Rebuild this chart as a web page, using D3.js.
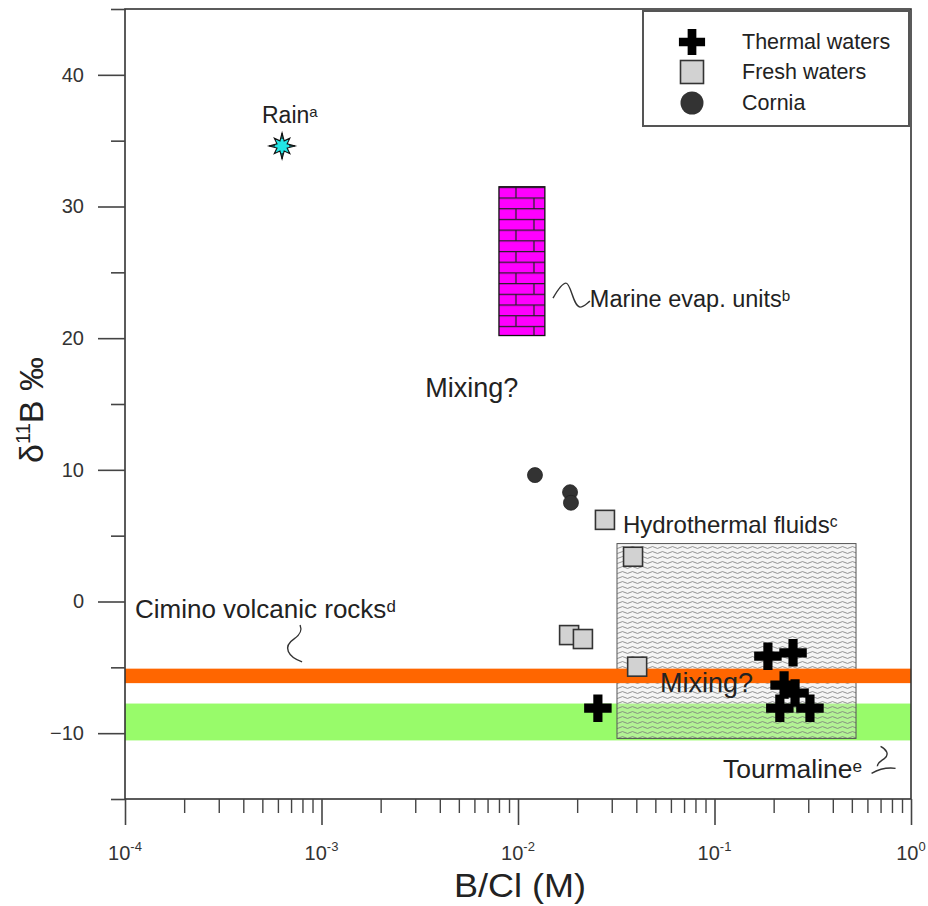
<!DOCTYPE html>
<html>
<head>
<meta charset="utf-8">
<script src="https://cdn.jsdelivr.net/npm/d3@7"></script>
<style>
  body { margin: 0; background: #fff; }
  svg { display: block; font-family: "Liberation Sans", Arial, sans-serif; }
</style>
</head>
<body>
<svg id="chart" width="928" height="906"></svg>
<script>
// ---------------- DATA ----------------
const xTickValues = [1e-4, 1e-3, 1e-2, 1e-1, 1];
const xTickExponents = ["-4", "-3", "-2", "-1", "0"];
const yTickValues = [-10, 0, 10, 20, 30, 40];
const yMinorTicks = [-15, -5, 5, 15, 25, 35, 45];

const thermalX = [0.0255, 0.187, 0.251, 0.226, 0.257, 0.215, 0.306];
const thermalY = [-8.1, -4.15, -3.9, -6.35, -6.95, -8.1, -8.1];

const freshX = [0.0277, 0.0385, 0.0182, 0.0214, 0.0404];
const freshY = [6.2, 3.4, -2.55, -2.85, -4.95];

const corniaX = [0.0122, 0.0184, 0.0186];
const corniaY = [9.6, 8.3, 7.5];

const rainX = [0.00063];
const rainY = [34.6];

const marineRangeX = [0.0080, 0.0137];
const marineRangeY = [20.2, 31.5];
const hydroRangeX = [0.0319, 0.525];
const hydroRangeY = [-10.4, 4.4];
const ciminoRangeY = [-6.2, -5.1];
const tourmalineRangeY = [-10.55, -7.75];

const legendLabels = ["Thermal waters", "Fresh waters", "Cornia"];

// ---------------- SETUP ----------------
const svg = d3.select("#chart");
const x = d3.scaleLog().domain([1e-4, 1]).range([125, 911]);
const y = d3.scaleLinear().domain([-15, 45]).range([799, 9]);
const textColor = "#222";

const defs = svg.append("defs");
// brick pattern
const brick = defs.append("pattern").attr("id", "brick")
  .attr("patternUnits", "userSpaceOnUse")
  .attr("x", x(marineRangeX[0])).attr("y", y(marineRangeY[1]))
  .attr("width", 36).attr("height", 21.4);
brick.append("rect").attr("width", 36).attr("height", 21.4).attr("fill", "#ff00ff");
brick.append("path")
  .attr("d", "M0,0.5H36M0,11.2H36M17,0.5V11.2M35,11.2V21.4")
  .attr("stroke", "#222").attr("stroke-width", 1.2).attr("fill", "none");

// wave pattern
const wave = defs.append("pattern").attr("id", "wave")
  .attr("patternUnits", "userSpaceOnUse")
  .attr("width", 10).attr("height", 5);
wave.append("path")
  .attr("d", "M0,2.5 Q2.5,0.6 5,2.5 T10,2.5")
  .attr("stroke", "#7a7a7a").attr("stroke-width", 0.8).attr("fill", "none");

const plot = svg.append("g");

// Tourmaline band (green)
plot.append("rect")
  .attr("x", x(1e-4)).attr("width", x(1) - x(1e-4))
  .attr("y", y(tourmalineRangeY[1])).attr("height", y(tourmalineRangeY[0]) - y(tourmalineRangeY[1]))
  .attr("fill", "#98fb6a");

// Hydrothermal fluids box
plot.append("rect")
  .attr("x", x(hydroRangeX[0])).attr("width", x(hydroRangeX[1]) - x(hydroRangeX[0]))
  .attr("y", y(hydroRangeY[1])).attr("height", y(hydroRangeY[0]) - y(hydroRangeY[1]))
  .attr("fill", "rgba(225,225,225,0.35)").attr("stroke", "none");
plot.append("rect")
  .attr("x", x(hydroRangeX[0])).attr("width", x(hydroRangeX[1]) - x(hydroRangeX[0]))
  .attr("y", y(hydroRangeY[1])).attr("height", y(hydroRangeY[0]) - y(hydroRangeY[1]))
  .attr("fill", "url(#wave)").attr("stroke", "#555").attr("stroke-width", 1);

// Cimino band (orange)
plot.append("rect")
  .attr("x", x(1e-4)).attr("width", x(1) - x(1e-4))
  .attr("y", y(ciminoRangeY[1])).attr("height", y(ciminoRangeY[0]) - y(ciminoRangeY[1]))
  .attr("fill", "#ff6600");

// Marine evaporite box
plot.append("rect")
  .attr("x", x(marineRangeX[0])).attr("width", x(marineRangeX[1]) - x(marineRangeX[0]))
  .attr("y", y(marineRangeY[1])).attr("height", y(marineRangeY[0]) - y(marineRangeY[1]))
  .attr("fill", "url(#brick)").attr("stroke", "#111").attr("stroke-width", 1.3);

// ---------------- AXES ----------------
svg.append("rect")
  .attr("x", x(1e-4)).attr("y", y(45))
  .attr("width", x(1) - x(1e-4)).attr("height", y(-15) - y(45))
  .attr("fill", "none").attr("stroke", "#333").attr("stroke-width", 1.6);

// Y axis majors
const yAxis = d3.axisLeft(y).tickValues(yTickValues).tickSize(27).tickSizeOuter(0).tickPadding(14)
  .tickFormat(d3.format("d"));
const gy = svg.append("g").attr("transform", `translate(${x(1e-4)},0)`).call(yAxis);
gy.select(".domain").remove();
gy.selectAll("line").attr("stroke", "#444").attr("stroke-width", 1.6);
gy.selectAll("text").attr("font-size", 20).attr("fill", "#333")
  .attr("font-family", "'Liberation Sans', Arial, sans-serif");
// Y minor
const yAxisMinor = d3.axisLeft(y).tickValues(yMinorTicks).tickSize(14).tickSizeOuter(0).tickFormat("");
const gym = svg.append("g").attr("transform", `translate(${x(1e-4)},0)`).call(yAxisMinor);
gym.select(".domain").remove();
gym.selectAll("line").attr("stroke", "#444").attr("stroke-width", 1.6);

// X axis majors
const xAxis = d3.axisBottom(x).tickValues(xTickValues).tickSize(26).tickSizeOuter(0).tickFormat("");
const gx = svg.append("g").attr("transform", `translate(0,${y(-15)})`).call(xAxis);
gx.select(".domain").remove();
gx.selectAll("line").attr("stroke", "#444").attr("stroke-width", 1.6);
// X minors
const xMinor = [];
xTickValues.slice(0, -1).forEach(v => { for (let k = 2; k <= 9; k++) xMinor.push(v * k); });
const xAxisMinor = d3.axisBottom(x).tickValues(xMinor).tickSize(14).tickSizeOuter(0).tickFormat("");
const gxm = svg.append("g").attr("transform", `translate(0,${y(-15)})`).call(xAxisMinor);
gxm.select(".domain").remove();
gxm.selectAll("line").attr("stroke", "#444").attr("stroke-width", 1.4);

// X tick labels with superscripts
const xl = svg.append("g").selectAll("text").data(xTickValues).join("text")
  .attr("x", d => x(d)).attr("y", 860)
  .attr("text-anchor", "middle").attr("font-size", 20).attr("fill", "#333");
xl.append("tspan").text("10");
xl.append("tspan").attr("dy", -9).attr("font-size", 13).text((d, i) => xTickExponents[i]);

// Axis titles
svg.append("text")
  .attr("x", 520).attr("y", 897).attr("text-anchor", "middle")
  .attr("font-size", 34).attr("fill", textColor)
  .attr("textLength", 132).attr("lengthAdjust", "spacingAndGlyphs")
  .text("B/Cl (M)");

const yt = svg.append("text")
  .attr("transform", "translate(43,410) rotate(-90)")
  .attr("text-anchor", "middle").attr("font-size", 34).attr("fill", textColor);
yt.append("tspan").text("δ");
yt.append("tspan").attr("font-size", 20).attr("dy", -13).text("11");
yt.append("tspan").attr("dy", 13).text("B ‰");

// ---------------- ANNOTATIONS ----------------
function label(xv, yv, main, sup, size, supDy) {
  const t = svg.append("text").attr("x", x(xv)).attr("y", y(yv))
    .attr("font-size", size).attr("fill", textColor);
  t.append("tspan").text(main);
  if (sup) t.append("tspan").attr("dy", supDy).attr("font-size", size * 0.65).text(sup);
  return t;
}
label(0.000498, 36.33, "Rain", "a", 23, -6);
label(0.0232, 22.36, "Marine evap. units", "b", 23.5, -6);
label(0.00337, 15.53, "Mixing?", null, 27, 0);
label(0.0342, 5.2, "Hydrothermal fluids", "c", 24, -6);
label(0.0001124, -1.25, "Cimino volcanic rocks", "d", 26, -6);
label(0.1104, -13.4, "Tourmaline", "e", 26.5, -6);

// squiggle leaders (anchored in data space, shape in px offsets)
function squiggle(xv, yv, d) {
  svg.append("path").attr("transform", `translate(${x(xv)},${y(yv)})`)
    .attr("d", d).attr("fill", "none").attr("stroke", "#333").attr("stroke-width", 1.4);
}
squiggle(0.01507, 23.04, "M0,0 C4,-7 9,-15 13,-15 C18,-15 20,8 27,9 C31,9 34,5 37,3");
squiggle(0.000778, -1.78, "M0,0 C2,5 1,9 -6,14 C-18,22 -12,32 2,37");
squiggle(0.70, -11.0, "M0,0 C6,3 9,8 4,12 C0,15 -4,17 -3,20 M-9,27 C-2,23 7,21 15,22");

// ---------------- MARKERS ----------------
const thermalData = thermalX.map((v, i) => ({ x: v, y: thermalY[i] }));
const freshData = freshX.map((v, i) => ({ x: v, y: freshY[i] }));
const corniaData = corniaX.map((v, i) => ({ x: v, y: corniaY[i] }));
const rainData = rainX.map((v, i) => ({ x: v, y: rainY[i] }));

svg.append("g").selectAll("circle").data(corniaData).join("circle")
  .attr("cx", d => x(d.x)).attr("cy", d => y(d.y)).attr("r", 7.5)
  .attr("fill", "#333").attr("stroke", "#222").attr("stroke-width", 0.8);

svg.append("g").selectAll("rect").data(freshData).join("rect")
  .attr("x", d => x(d.x) - 9.5).attr("y", d => y(d.y) - 9.5)
  .attr("width", 19).attr("height", 19)
  .attr("fill", "#d2d2d2").attr("stroke", "#333").attr("stroke-width", 1.6);

// second Mixing? label, drawn over the band
label(0.0528, -6.87, "Mixing?", null, 27, 0);

const cross = d3.symbol().type(d3.symbolCross).size(420);
svg.append("g").selectAll("path").data(thermalData).join("path")
  .attr("transform", d => `translate(${x(d.x)},${y(d.y)})`)
  .attr("d", cross).attr("fill", "#000");

// rain star
function starPath(R1, R2, r) {
  const p = d3.path();
  for (let i = 0; i < 16; i++) {
    const a = i * Math.PI / 8 - Math.PI / 2;
    const rad = i % 2 === 1 ? r : (i % 4 === 0 ? R1 : R2);
    const px = rad * Math.cos(a), py = rad * Math.sin(a);
    if (i === 0) p.moveTo(px, py); else p.lineTo(px, py);
  }
  p.closePath();
  return p.toString();
}
const rainG = svg.append("g").selectAll("g").data(rainData).join("g")
  .attr("transform", d => `translate(${x(d.x)},${y(d.y)})`);
rainG.append("path").attr("d", starPath(13, 11, 5.5))
  .attr("fill", "#22e5e5").attr("stroke", "#111").attr("stroke-width", 1.1);
rainG.append("path").attr("d", "M0,-13V-7M0,13V7M-13,0H-7M13,0H7")
  .attr("stroke", "#111").attr("stroke-width", 1.2);

// ---------------- LEGEND ----------------
const lg = svg.append("g");
lg.append("rect").attr("x", 643).attr("y", 11).attr("width", 266).attr("height", 115)
  .attr("fill", "#fff").attr("stroke", "#555").attr("stroke-width", 2);
const ly = [42, 72, 103];
lg.append("path").attr("transform", `translate(692,${ly[0]})`)
  .attr("d", d3.symbol().type(d3.symbolCross).size(380)).attr("fill", "#000");
lg.append("rect").attr("x", 692 - 11.5).attr("y", ly[1] - 11.5).attr("width", 23).attr("height", 23)
  .attr("fill", "#d2d2d2").attr("stroke", "#333").attr("stroke-width", 1.6);
lg.append("circle").attr("cx", 692).attr("cy", ly[2]).attr("r", 11.5).attr("fill", "#333");
lg.selectAll("text.leg").data(legendLabels).join("text").attr("class", "leg")
  .attr("x", 742).attr("y", (d, i) => ly[i] + 7)
  .attr("font-size", 21.5).attr("fill", textColor).text(d => d);
</script>
</body>
</html>
